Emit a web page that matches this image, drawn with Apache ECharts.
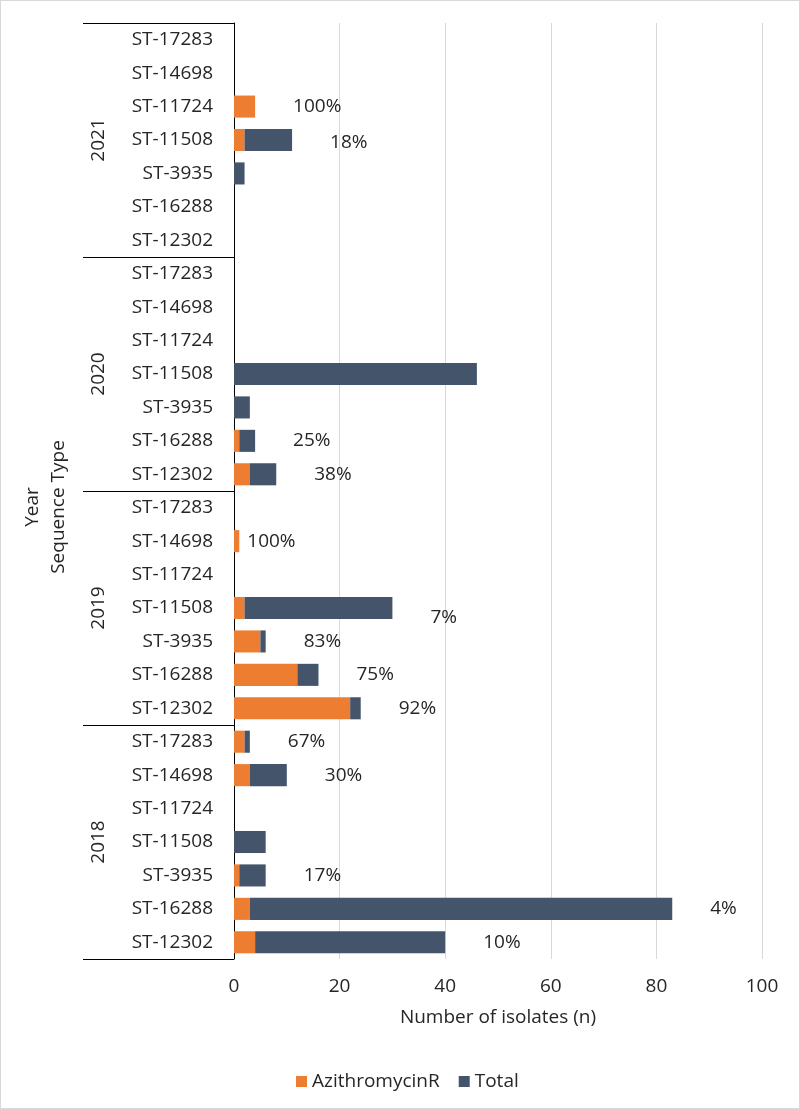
<!DOCTYPE html>
<html>
<head>
<meta charset="utf-8">
<script src="https://cdn.jsdelivr.net/npm/echarts@6/dist/echarts.min.js"></script>
<style>
html,body{margin:0;padding:0;background:#fff;}
#c{width:800px;height:1109px;box-sizing:border-box;border:1px solid #d9d9d9;}
</style>
</head>
<body>
<div id="c"></div>
<script>
const years = ['2021', '2020', '2019', '2018'];
const sequenceTypes = ['ST-17283', 'ST-14698', 'ST-11724', 'ST-11508', 'ST-3935', 'ST-16288', 'ST-12302'];
// values per year, in sequenceTypes order
const azithromycinR2021 = [0, 0, 4, 2, 0, 0, 0];
const total2021 = [0, 0, 4, 11, 2, 0, 0];
const azithromycinR2020 = [0, 0, 0, 0, 0, 1, 3];
const total2020 = [0, 0, 0, 46, 3, 4, 8];
const azithromycinR2019 = [0, 1, 0, 2, 5, 12, 22];
const total2019 = [0, 1, 0, 30, 6, 16, 24];
const azithromycinR2018 = [2, 3, 0, 0, 1, 3, 4];
const total2018 = [3, 10, 0, 6, 6, 83, 40];
const xTicks = [0, 20, 40, 60, 80, 100];

const azrAll = [].concat(azithromycinR2021, azithromycinR2020, azithromycinR2019, azithromycinR2018);
const totAll = [].concat(total2021, total2020, total2019, total2018);
const cats = [];
years.forEach(y => sequenceTypes.forEach(s => cats.push(y + '|' + s)));

const labelDistance = {'2019|ST-14698': 8};
const labelDy = {'2019|ST-11508': 10, '2021|ST-11508': 3};

const restData = totAll.map((t, i) => {
  const item = {value: t - azrAll[i]};
  const k = cats[i];
  if (labelDistance[k] !== undefined || labelDy[k] !== undefined) {
    item.label = {};
    if (labelDistance[k] !== undefined) item.label.distance = labelDistance[k];
    if (labelDy[k] !== undefined) item.label.offset = [0, labelDy[k]];
  }
  return item;
});

const FS = 19;
const chart = echarts.init(document.getElementById('c'));
const txt = '#262626';
chart.setOption({
  animation: false,
  textStyle: {fontFamily: 'Open Sans'},
  grid: {left: 233, right: 37, top: 22, bottom: 149, containLabel: false},
  legend: {
    data: ['AzithromycinR', 'Total'],
    left: 290, top: 1066,
    icon: 'rect', itemWidth: 11, itemHeight: 11, itemGap: 19, itemStyle: {borderWidth: 0},
    textStyle: {fontSize: FS, color: txt, fontFamily: 'Open Sans'}
  },
  xAxis: {
    type: 'value', min: xTicks[0], max: xTicks[xTicks.length - 1], interval: 20,
    axisLine: {show: false}, axisTick: {show: false},
    splitLine: {lineStyle: {color: '#d9d9d9'}},
    axisLabel: {fontSize: FS, color: txt, margin: 18},
    name: 'Number of isolates (n)', nameLocation: 'middle', nameGap: 49,
    nameTextStyle: {fontSize: FS, color: txt}
  },
  yAxis: [{
    type: 'category', data: cats, inverse: true,
    axisLine: {show: true, lineStyle: {color: '#000'}},
    axisTick: {show: false},
    axisLabel: {fontSize: FS, color: txt, margin: 21, formatter: v => v.split('|')[1]},
    name: 'Year\nSequence Type', nameLocation: 'middle', nameGap: 162, nameRotate: 90,
    nameTextStyle: {fontSize: FS, color: txt, lineHeight: 26, align: 'center', padding: [0, 32, 0, 0]}
  }, {
    type: 'category', data: years, inverse: true, position: 'left',
    axisLine: {show: false},
    axisTick: {show: true, length: 151, lineStyle: {color: '#000'}},
    axisLabel: {fontSize: FS, color: txt, rotate: 90, margin: 126}
  }],
  series: [{
    name: 'AzithromycinR', type: 'bar', stack: 'a', yAxisIndex: 0,
    data: azrAll, barCategoryGap: '34%',
    itemStyle: {color: '#ED7D31'}
  }, {
    name: 'Total', type: 'bar', stack: 'a', yAxisIndex: 0,
    data: restData, barCategoryGap: '34%',
    itemStyle: {color: '#44546A'},
    label: {
      show: true, position: 'right', distance: 38, fontSize: FS, color: txt,
      formatter: p => azrAll[p.dataIndex] > 0 ? Math.round(azrAll[p.dataIndex] / totAll[p.dataIndex] * 100) + '%' : ''
    }
  }]
});
</script>
</body>
</html>
